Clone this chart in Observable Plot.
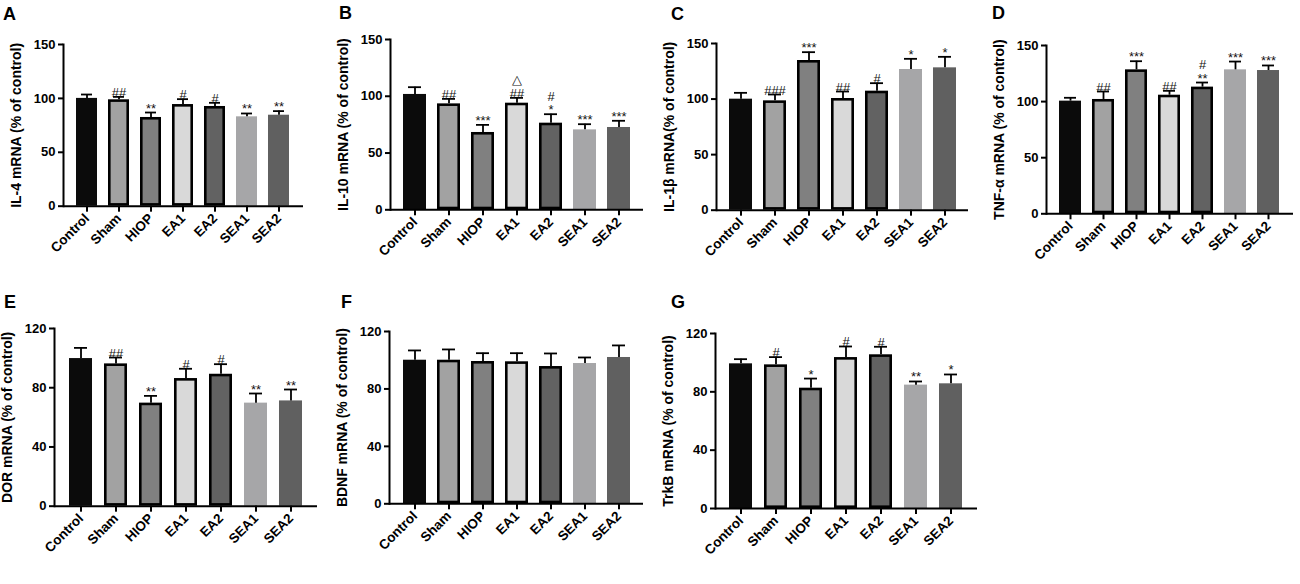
<!DOCTYPE html>
<html>
<head>
<meta charset="utf-8">
<script src="https://cdn.jsdelivr.net/npm/d3@7"></script>
<script src="https://cdn.jsdelivr.net/npm/@observablehq/plot@0.6"></script>
<style>
  html, body { margin: 0; padding: 0; background: #fff; }
  #root { position: relative; width: 1300px; height: 584px; overflow: hidden; background: #fff; }
  .panel { position: absolute; }
  .letter { position: absolute; font-family: "Liberation Sans", Arial, sans-serif; font-weight: bold; font-size: 18px; line-height: 18px; color: #000; }
</style>
</head>
<body>
<div id="root"></div>
<script>
// ---- data ----
const groups = ["Control", "Sham", "HIOP", "EA1", "EA2", "SEA1", "SEA2"];
const groupFills = ["#0b0b0b", "#a2a2a2", "#808080", "#d9d9d9", "#626262", "#a6a6a8", "#606060"];
const groupOutlined = [false, true, true, true, true, false, false];

const letters = ["A", "B", "C", "D", "E", "F", "G"];
const yLabels = [
  "IL-4 mRNA (% of control)",
  "IL-10 mRNA (% of control)",
  "IL-1β mRNA(% of control)",
  "TNF-α mRNA (% of control)",
  "DOR mRNA (% of control)",
  "BDNF mRNA (% of control)",
  "TrkB mRNA (% of control)"
];
const ticks150 = [0, 50, 100, 150];
const ticks120 = [0, 40, 80, 120];

const meanA = [100, 98.7, 82.3, 94.3, 92.5, 82.9, 84.4];
const upperA = [103.6, 101.4, 86.9, 99.3, 95.9, 86.0, 88.2];
const sigA = ["", "##", "**", "#", "#", "**", "**"];

const meanB = [101.6, 93.3, 68.1, 93.9, 76.3, 70.4, 72.5];
const upperB = [108, 97.7, 74.8, 98.6, 84.2, 75.4, 78.4];
const sigB = ["", "##", "***", "△\n##", "#\n*", "***", "***"];

const meanC = [99.9, 98.4, 134.7, 100.5, 107.1, 126.6, 128.1];
const upperC = [105.6, 104.1, 142.2, 106.8, 114.3, 136.2, 138];
const sigC = ["", "###", "***", "##", "#", "*", "*"];

const meanD = [100.4, 101.9, 128.3, 105.7, 112.9, 128.3, 127.7];
const upperD = [103.4, 109, 136, 109.6, 117, 135.7, 132.2];
const sigD = ["", "##", "***", "##", "#\n**", "***", "***"];

const meanE = [99.7, 96.1, 69.6, 86.2, 89.1, 69.6, 71.1];
const upperE = [106.9, 100.4, 74.5, 92.8, 95.9, 76.1, 78.8];
const sigE = ["", "##", "**", "#", "#", "**", "**"];

const meanF = [100, 100, 99.1, 98.9, 95.6, 97.7, 101.9];
const upperF = [106.8, 107.5, 104.9, 104.9, 104.7, 101.9, 110.3];
const sigF = ["", "", "", "", "", "", ""];

const meanG = [99.2, 98.5, 82.5, 103.5, 105.4, 84.6, 85.5];
const upperG = [102.4, 103.8, 89.1, 111.1, 110.9, 87.1, 91.9];
const sigG = ["", "#", "*", "#", "#", "**", "*"];

const panelMeans = [meanA, meanB, meanC, meanD, meanE, meanF, meanG];
const panelUppers = [upperA, upperB, upperC, upperD, upperE, upperF, upperG];
const panelSigs = [sigA, sigB, sigC, sigD, sigE, sigF, sigG];
const panelTicks = [ticks150, ticks150, ticks150, ticks150, ticks120, ticks120, ticks120];

// ---- layout (pixel frame of each panel's plotting area) ----
const layout = [
  {x0: 63,   x1: 303,  yTop: 44.3,  y0: 206,   lx: 3,   ly: 5},
  {x0: 390,  x1: 643,  yTop: 39,    y0: 209.3, lx: 339, ly: 4},
  {x0: 716,  x1: 968,  yTop: 43.3,  y0: 210,   lx: 671, ly: 5},
  {x0: 1046, x1: 1293, yTop: 45,    y0: 213.3, lx: 992, ly: 4},
  {x0: 54,   x1: 317,  yTop: 328.3, y0: 506,   lx: 4,   ly: 293},
  {x0: 389,  x1: 643,  yTop: 331,   y0: 503.3, lx: 341, ly: 293},
  {x0: 715,  x1: 977,  yTop: 332.7, y0: 507.7, lx: 671, ly: 293}
];

const root = document.getElementById("root");
const mL = 62, mR = 6, mT = 18, mB = 80;
const FONT = "'Liberation Sans', Arial, sans-serif";

letters.forEach((letter, i) => {
  const L = layout[i];
  const ticks = panelTicks[i];
  const data = groups.map((g, j) => ({
    g,
    v: panelMeans[i][j],
    u: panelUppers[i][j],
    s: panelSigs[i][j],
    fill: groupFills[j],
    outlined: groupOutlined[j]
  }));
  const width = (L.x1 - L.x0) + mL + mR;
  const height = (L.y0 - L.yTop) + mT + mB;
  const chart = Plot.plot({
    width, height,
    marginLeft: mL, marginRight: mR, marginTop: mT, marginBottom: mB,
    style: {fontFamily: FONT, fontSize: "13px", fontWeight: "bold", color: "#000", background: "transparent", overflow: "visible"},
    x: {domain: groups, paddingInner: 0.33, paddingOuter: 0.37, label: null},
    y: {domain: [0, ticks[ticks.length - 1]], label: null},
    marks: [
      Plot.barY(data.filter(d => !d.outlined), {x: "g", y: "v", fill: "fill"}),
      Plot.barY(data.filter(d => d.outlined), {x: "g", y: "v", fill: "fill", stroke: "#000", strokeWidth: 2.6, inset: 1.3}),
      Plot.ruleX(data, {x: "g", y1: "v", y2: "u", stroke: "#000", strokeWidth: 1.8}),
      Plot.tickY(data, {x: "g", y: "u", stroke: "#000", strokeWidth: 1.8, insetLeft: 5, insetRight: 5}),
      Plot.text(data, {x: "g", y: "u", text: "s", lineAnchor: "bottom", dy: 0, fill: "#111", fontSize: 13, fontWeight: "normal", fontFamily: FONT, lineHeight: 1.05}),
      Plot.axisY({ticks, tickSize: 5, tickPadding: 3, strokeWidth: 2, fontSize: 13, fontWeight: "bold", fontFamily: FONT,
        label: yLabels[i], labelAnchor: "center", labelOffset: 52, labelArrow: "none"}),
      Plot.axisX({tickSize: 6, tickPadding: 4, strokeWidth: 2, tickRotate: -45, fontSize: 13.5, fontWeight: "bold", fontFamily: FONT, label: null}),
      Plot.ruleY([0], {stroke: "#000", strokeWidth: 2}),
      Plot.frame({anchor: "left", stroke: "#000", strokeWidth: 2})
    ]
  });
  // enlarge the y-axis label to the reference size
  chart.querySelectorAll("[aria-label='y-axis label'] text, [aria-label='y-axis label']").forEach(el => {
    el.setAttribute("font-size", "14");
  });
  chart.classList.add("panel");
  chart.style.left = (L.x0 - mL) + "px";
  chart.style.top = (L.yTop - mT) + "px";
  root.appendChild(chart);

  const t = document.createElement("div");
  t.className = "letter";
  t.textContent = letter;
  t.style.left = L.lx + "px";
  t.style.top = L.ly + "px";
  root.appendChild(t);
});
</script>
</body>
</html>
